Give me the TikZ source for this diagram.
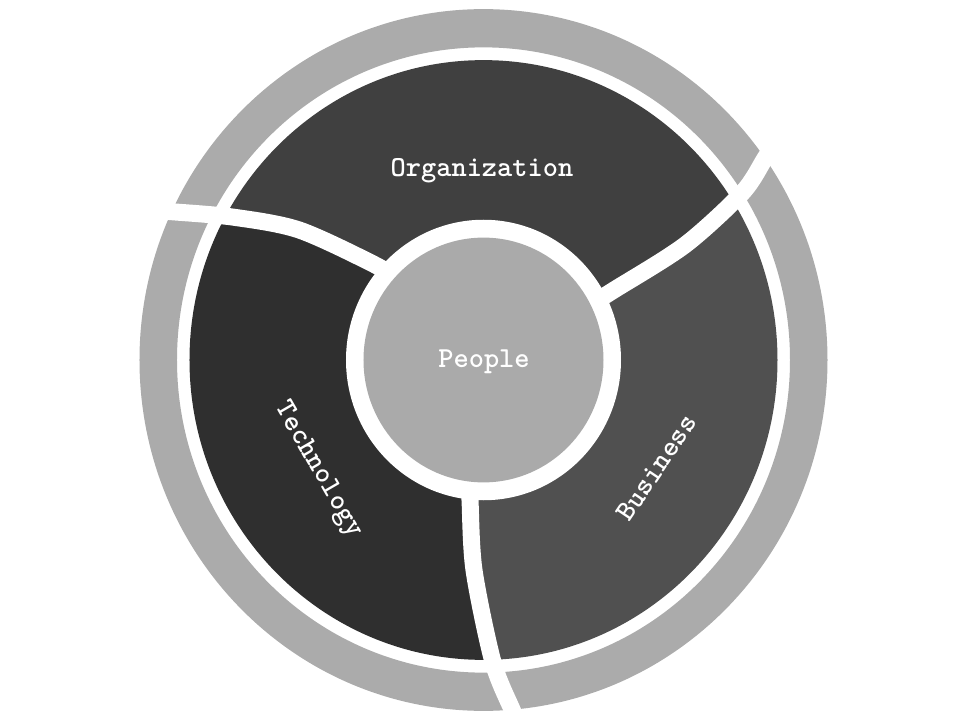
\documentclass[tikz,border=0pt]{standalone}
\usepackage{fontspec}
\definecolor{ringgray}{HTML}{ABABAB}
\definecolor{orggray}{HTML}{404040}
\definecolor{techgray}{HTML}{2F2F2F}
\definecolor{busgray}{HTML}{505050}
\definecolor{peoplegray}{HTML}{AAAAAA}
\begin{document}
\begin{tikzpicture}[x = 0.02cm, y = 0.02cm,
	every node/.style = {text = white, font = \ttfamily\bfseries\fontsize{16.5}{19}\selectfont},
	arm/.style = {draw = white, line width = 0.34cm}]
\useasboundingbox (-483.5,-360) rectangle (476.5,360);
\begin{scope}[yscale = 1.02]
\coordinate (ot0) at (-80,76);
\coordinate (ot1) at (-110,94);
\coordinate (ot2) at (-184.5,127.5);
\coordinate (ot3) at (-250,140);
\coordinate (ot4) at (-313.5,145.5);
\coordinate (ot5) at (-345,148);
\coordinate (ob0) at (105,53);
\coordinate (ob1) at (130.5,68.6);
\coordinate (ob2) at (201.5,112.7);
\coordinate (ob3) at (259,164.2);
\coordinate (ob4) at (281.5,197.7);
\coordinate (ob5) at (295,218);
\coordinate (tb0) at (-14.5,-118);
\coordinate (tb1) at (-13.5,-137.3);
\coordinate (tb2) at (-9.5,-205.9);
\coordinate (tb3) at (9.5,-296.1);
\coordinate (tb4) at (29.5,-344.8);
\coordinate (tb5) at (37,-363);
\begin{scope}
\clip (0,0) circle (294);
\fill[orggray] (0,0) -- plot[smooth] coordinates {(ob0) (ob1) (ob2) (ob3) (ob4) (ob5)}
	-- (40:450) -- (90:450) -- (150:450)
	-- plot[smooth] coordinates {(ot5) (ot4) (ot3) (ot2) (ot1) (ot0)} -- cycle;
\fill[busgray] (0,0) -- plot[smooth] coordinates {(tb0) (tb1) (tb2) (tb3) (tb4) (tb5)}
	-- (-80:450) -- (-20:450) -- (30:450)
	-- plot[smooth] coordinates {(ob5) (ob4) (ob3) (ob2) (ob1) (ob0)} -- cycle;
\fill[techgray] (0,0) -- plot[smooth] coordinates {(ot0) (ot1) (ot2) (ot3) (ot4) (ot5)}
	-- (160:450) -- (210:450) -- (260:450)
	-- plot[smooth] coordinates {(tb5) (tb4) (tb3) (tb2) (tb1) (tb0)} -- cycle;
\end{scope}
\fill[ringgray, even odd rule] (0,0) circle (344) circle (306.5);
\foreach \a in {ot, ob, tb}
	\draw[arm] plot[smooth] coordinates {(\a0) (\a1) (\a2) (\a3) (\a4) (\a5)};
\fill[white] (0,0) circle (137.5);
\fill[peoplegray] (0,0) circle (120);
\end{scope}
\node (people) at (0.5,-2) {People};
\node (org) at (-1.5,189) {Organization};
\node[rotate = -60] (tech) at (-165.5,-110) {Technology};
\node[rotate = 56] (bus) at (173.2,-107.5) {Business};
\end{tikzpicture}
\end{document}
